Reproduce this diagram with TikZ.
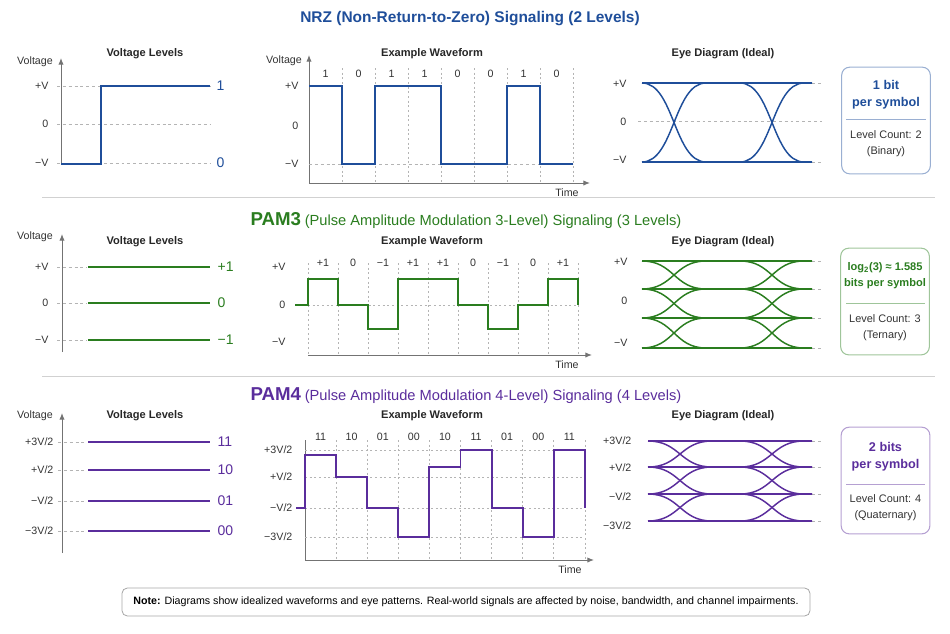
\documentclass[tikz,border=0pt]{standalone}
\usepackage{fontspec}
\setmainfont{Liberation Sans}
\usetikzlibrary{arrows.meta,positioning,calc}
\definecolor{nrzcol}{HTML}{1F4E9A}
\definecolor{pamthree}{HTML}{2A7D1F}
\definecolor{pamfour}{HTML}{5A2D9C}
\definecolor{gridcol}{HTML}{B4B4B4}
\definecolor{txtcol}{HTML}{333333}
% one band of an ideal eye: colour, upper y, lower y, start x, first crossing x
\newcommand{\eyeband}[5]{%
  \draw[eye,#1] (#4,#2) .. controls (#5,#2) and (#5,#3) .. ({2*#5-#4},#3) -- (740,#3)
    .. controls (772,#3) and (772,#2) .. (804,#2) -- (812,#2);
  \draw[eye,#1] (#4,#3) .. controls (#5,#3) and (#5,#2) .. ({2*#5-#4},#2) -- (740,#2)
    .. controls (772,#2) and (772,#3) .. (804,#3) -- (812,#3);}

\begin{document}
\begin{tikzpicture}[x=0.75pt,y=-0.75pt,>={Latex[length=5pt,width=4pt]},
  lbl/.style={font=\fontsize{8}{9.6}\selectfont,text=txtcol,inner sep=1pt},
  ptitle/.style={font=\fontsize{8.3}{10}\selectfont\bfseries,text=black!85,inner sep=1pt},
  axis/.style={draw=black!55,line width=0.75pt},
  guide/.style={draw=gridcol,line width=0.5pt,dash pattern=on 2.2pt off 2.2pt},
  slot/.style={draw=gridcol,line width=0.5pt,dash pattern=on 1.5pt off 2pt},
  wave/.style={line width=1.4pt,line join=miter},
  eye/.style={line width=1.1pt},
  code/.style={font=\fontsize{10.5}{12}\selectfont,inner sep=1pt,anchor=west},
  infobox/.style={draw,rounded corners=6pt,line width=0.8pt,minimum width=66.5pt,minimum height=80pt},
  infohead/.style={font=\fontsize{9.5}{12.75}\selectfont\bfseries,align=center,inner sep=1pt},
  infotext/.style={font=\fontsize{8.2}{12}\selectfont,text=txtcol,align=center,inner sep=1pt},
  divider/.style={draw=black!18,line width=0.7pt}]
\useasboundingbox (0,0) rectangle (950,633);

% ---------------- NRZ
\node[font=\fontsize{11.6}{14}\selectfont\bfseries,text=nrzcol] (nrztitle) at (470,19) {NRZ (Non-Return-to-Zero) Signaling (2 Levels)};
% levels
\node[ptitle] (nrzlvt) at (145,54) {Voltage Levels};
\node[lbl] (nrzvolt) at (35,62) {Voltage};
\coordinate (nrzo) at (61,164);
\draw[axis,->] (nrzo) -- (61,58);
\foreach \y/\t/\n in {86/+V/hi,124/0/mid,163/−V/lo}{
  \node[lbl,anchor=east] (nrz-\n) at (50,\y) {\t};
  \draw[guide] (57,\y) -- (210,\y);
}
\draw[wave,nrzcol] (nrzo) -- (101,164) -- (101,86) -- (210,86);
\node[code,text=nrzcol] (nrz-c1) at (215,86) {1};
\node[code,text=nrzcol] (nrz-c0) at (215,163) {0};
% waveform
\node[ptitle] (nrzwft) at (432,54) {Example Waveform};
\node[lbl] (nrzwvolt) at (284,61) {Voltage};
\coordinate (nrzwo) at (309,183);
\draw[axis,->] (nrzwo) -- (309,55);
\draw[axis,->] (nrzwo) -- (590,183);
\node[lbl] (nrztime) at (567,193) {Time};
\foreach \x in {342,375,...,573} \draw[slot] (\x,68) -- (\x,183);
\draw[guide] (309,164) -- (573,164);
\foreach \b [count=\i] in {1,0,1,1,0,0,1,0}
  \node[lbl] (nrzb\i) at ({309+33*\i-16.5},74) {\b};
\foreach \y/\t/\n in {86/+V/hi,126/0/mid,164/−V/lo}
  \node[lbl,anchor=east] (nrzw-\n) at (300,\y) {\t};
\draw[wave,nrzcol] (309,86) -- (342,86) -- (342,164) -- (375,164) -- (375,86) -- (441,86)
  -- (441,164) -- (507,164) -- (507,86) -- (540,86) -- (540,164) -- (573,164);
% eye
\node[ptitle] (nrzeyet) at (723,54) {Eye Diagram (Ideal)};
\foreach \y/\t/\n in {84/+V/hi,122/0/mid,160/−V/lo}
  \node[lbl,anchor=east] (nrze-\n) at (628,\y) {\t};
\draw[guide] (638,121) -- (822,121);
\foreach \y in {83,162} {
  \draw[guide] (812,\y) -- (822,\y);
  \draw[eye,nrzcol] (642,\y) -- (812,\y);
}
\eyeband{nrzcol}{83}{162}{642}{674}
% info
\node[infobox,draw=nrzcol!45] (nrzinfo) at (886,120.5) {};
\node[infohead,text=nrzcol] (nrzbits) at (886,95) {1 bit\\per symbol};
\draw[nrzcol!45,line width=0.7pt] (846,119) -- (926,119);
\node[infotext] (nrzcount) at (886,144) {Level Count: 2\\(Binary)};

\draw[divider] (42,197) -- (935,197);

% ---------------- PAM3
\node[text=pamthree] (pam3title) at (466,220) {{\fontsize{14}{16}\selectfont\bfseries PAM3} {\fontsize{11}{14}\selectfont (Pulse Amplitude Modulation 3-Level) Signaling (3 Levels)}};
% levels
\node[ptitle] (pam3lvt) at (145,242) {Voltage Levels};
\node[lbl] (pam3volt) at (35,237) {Voltage};
\draw[axis,->] (62,352) -- (62,234);
\foreach \y/\t/\c/\n in {267/+V/+1/hi,303/0/0/mid,340/−V/−1/lo}{
  \node[lbl,anchor=east] (pam3-\n) at (50,\y) {\t};
  \draw[guide] (57,\y) -- (87,\y);
  \draw[wave,pamthree] (88,\y) -- (210,\y);
  \node[code,text=pamthree] (pam3-c\n) at (216,\y) {\c};
}
% waveform
\node[ptitle] (pam3wft) at (432,242) {Example Waveform};
\coordinate (pam3wo) at (308,355);
\draw[axis,->] (pam3wo) -- (592,355);
\node[lbl] (pam3time) at (567,365) {Time};
\foreach \x in {308,338,...,578} \draw[slot] (\x,263) -- (\x,355);
\draw[slot] (308,305) -- (578,305);
\foreach \b [count=\i] in {+1,0,−1,+1,+1,0,−1,0,+1}
  \node[lbl] (pam3b\i) at ({308+30*\i-15},263) {\b};
\foreach \y/\t/\n in {267/+V/hi,305/0/mid,342/−V/lo}
  \node[lbl,anchor=east] (pam3w-\n) at (287,\y) {\t};
\draw[wave,pamthree] (295,305) -- (308,305) -- (308,279) -- (338,279) -- (338,305) -- (368,305)
  -- (368,329) -- (398,329) -- (398,279) -- (458,279) -- (458,305) -- (488,305) -- (488,329)
  -- (518,329) -- (518,305) -- (548,305) -- (548,279) -- (578,279) -- (578,305);
% eye
\node[ptitle] (pam3eyet) at (723,242) {Eye Diagram (Ideal)};
\foreach \y/\t/\n in {262/+V/hi,301/0/mid,343/−V/lo}
  \node[lbl,anchor=east] (pam3e-\n) at (629,\y) {\t};
\foreach \y in {261,289,318,348} {
  \draw[guide] (812,\y) -- (822,\y);
  \draw[eye,pamthree] (642,\y) -- (812,\y);
}
\eyeband{pamthree}{261}{289}{642}{674}
\eyeband{pamthree}{289}{318}{642}{674}
\eyeband{pamthree}{318}{348}{642}{674}
% info
\node[infobox,draw=pamthree!45] (pam3info) at (885,301.5) {};
\node[infohead,text=pamthree,font=\fontsize{8.3}{12}\selectfont\bfseries] (pam3bits) at (885,276) {log\textsubscript{2}(3) ≈ 1.585\\bits per symbol};
\draw[pamthree!45,line width=0.7pt] (846,303) -- (925,303);
\node[infotext] (pam3count) at (885,328) {Level Count: 3\\(Ternary)};

\draw[divider] (42,376) -- (935,376);

% ---------------- PAM4
\node[text=pamfour] (pam4title) at (466,396) {{\fontsize{14}{16}\selectfont\bfseries PAM4} {\fontsize{11}{14}\selectfont (Pulse Amplitude Modulation 4-Level) Signaling (4 Levels)}};
% levels
\node[ptitle] (pam4lvt) at (145,416) {Voltage Levels};
\node[lbl] (pam4volt) at (35,416) {Voltage};
\draw[axis,->] (62,553) -- (62,413);
\foreach \y/\t/\c/\n in {442/{+3V/2}/11/a,470/{+V/2}/10/b,501/{−V/2}/01/c,531/{−3V/2}/00/d}{
  \node[lbl,anchor=east] (pam4-\n) at (55,\y) {\t};
  \draw[guide] (58,\y) -- (87,\y);
  \draw[wave,pamfour] (88,\y) -- (210,\y);
  \node[code,text=pamfour] (pam4-c\n) at (216,\y) {\c};
}
% waveform
\node[ptitle] (pam4wft) at (432,416) {Example Waveform};
\coordinate (pam4wo) at (305,560);
\draw[axis] (pam4wo) -- (305,440);
\draw[axis,->] (pam4wo) -- (594,560);
\node[lbl] (pam4time) at (570,570) {Time};
\foreach \i in {1,...,9} \draw[slot] ({305+31.1*\i},440) -- ({305+31.1*\i},560);
\foreach \y in {450,477,508,537} \draw[slot] (305,\y) -- (585,\y);
\foreach \b [count=\i] in {11,10,01,00,10,11,01,00,11}
  \node[lbl] (pam4b\i) at ({305+31.1*\i-15.55},437) {\b};
\foreach \y/\t/\n in {450/{+3V/2}/a,477/{+V/2}/b,508/{−V/2}/c,537/{−3V/2}/d}
  \node[lbl,anchor=east] (pam4w-\n) at (294,\y) {\t};
\draw[wave,pamfour] (296,508) -- (305,508) -- (305,455) -- (336.1,455) -- (336.1,477) -- (367.2,477)
  -- (367.2,508) -- (398.3,508) -- (398.3,537) -- (429.4,537) -- (429.4,467) -- (460.5,467)
  -- (460.5,450) -- (491.6,450) -- (491.6,508) -- (522.7,508) -- (522.7,537) -- (553.8,537)
  -- (553.8,450) -- (584.9,450) -- (584.9,508);
% eye
\node[ptitle] (pam4eyet) at (723,416) {Eye Diagram (Ideal)};
\foreach \y/\t/\n in {441/{+3V/2}/a,468/{+V/2}/b,497/{−V/2}/c,526/{−3V/2}/d}
  \node[lbl,anchor=east] (pam4e-\n) at (633,\y) {\t};
\foreach \y in {441,467,494,521} {
  \draw[guide] (812,\y) -- (822,\y);
  \draw[eye,pamfour] (648,\y) -- (812,\y);
}
\eyeband{pamfour}{441}{467}{648}{680}
\eyeband{pamfour}{467}{494}{648}{680}
\eyeband{pamfour}{494}{521}{648}{680}
% info
\node[infobox,draw=pamfour!45] (pam4info) at (885.5,480.5) {};
\node[infohead,text=pamfour] (pam4bits) at (885.5,456.5) {2 bits\\per symbol};
\draw[pamfour!45,line width=0.7pt] (846,484) -- (925,484);
\node[infotext] (pam4count) at (885.5,508) {Level Count: 4\\(Quaternary)};

% ---------------- note
\node[draw=black!35,rounded corners=4pt,line width=0.6pt,minimum width=516pt,minimum height=21pt,
  font=\fontsize{8}{9.5}\selectfont] (note) at (466,602)
  {\textbf{Note:} Diagrams show idealized waveforms and eye patterns. Real-world signals are affected by noise, bandwidth, and channel impairments.};
\end{tikzpicture}
\end{document}
